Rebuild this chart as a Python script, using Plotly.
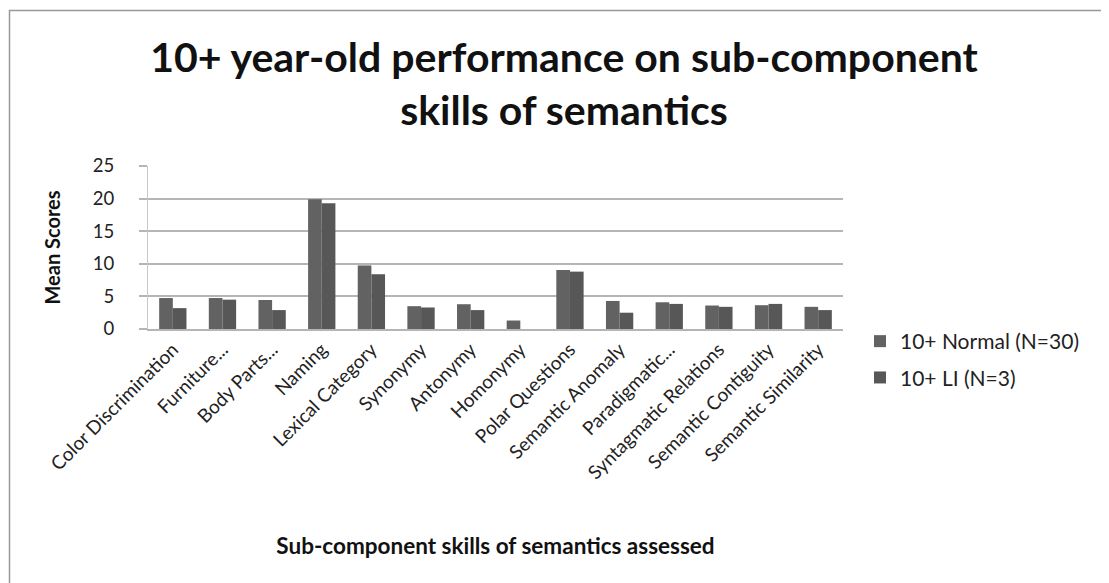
import plotly.graph_objects as go

categories = ["Color Discrimination", "Furniture...", "Body Parts...", "Naming",
              "Lexical Category", "Synonymy", "Antonymy", "Homonymy",
              "Polar Questions", "Semantic Anomaly", "Paradigmatic...",
              "Syntagmatic Relations", "Semantic Contiguity", "Semantic Similarity"]
normal_vals = [4.75, 4.75, 4.45, 19.9, 9.75, 3.5, 3.8, 1.3, 9.05, 4.3, 4.1, 3.6, 3.65, 3.4]
li_vals = [3.2, 4.5, 2.9, 19.3, 8.4, 3.3, 2.9, 0, 8.8, 2.5, 3.85, 3.4, 3.85, 2.9]
series_names = ["10+ Normal (N=30)", "10+ LI (N=3)"]

FONT = "Lato, 'Open Sans', 'DejaVu Sans', sans-serif"

fig = go.Figure()
fig.add_trace(go.Bar(x=categories, y=normal_vals, name=series_names[0],
                     marker=dict(color="#626262", line=dict(width=0)), legendgroup="a"))
fig.add_trace(go.Bar(x=categories, y=li_vals, name=series_names[1],
                     marker=dict(color="#575757", line=dict(width=0)), legendgroup="b"))

OFF = 8  # page body margin
W, H = 1109 - OFF, 583 - OFF
# plot area in reference (page) pixel coordinates
PX0, PX1, PY0, PY1 = 148, 843, 166, 329
L, R = PX0 - OFF, W - (PX1 - OFF)
T, B = PY0 - OFF, H - (PY1 - OFF)
pw, ph = W - L - R, H - T - B

def px(x):
    return (x - OFF - L) / pw

def py(y):
    return (H - B - (y - OFF)) / ph

fig.update_layout(
    width=W, height=H,
    margin=dict(l=L, r=R, t=T, b=B, autoexpand=False),
    paper_bgcolor="white", plot_bgcolor="white",
    barmode="group", bargap=0.45, bargroupgap=0,
    font=dict(family=FONT, color="#222"),
    title=dict(text="<b>10+ year-old performance on sub-component<br>skills of semantics</b>",
               x=0.505, xanchor="center", y=1 - 64 / H, yanchor="middle",
               font=dict(size=41, color="#111", family=FONT)),
    showlegend=True,
    legend=dict(x=px(860), y=py(321), xanchor="left", yanchor="top",
                font=dict(size=21, color="#222"), tracegroupgap=6,
                bgcolor="rgba(0,0,0,0)", itemwidth=30),
    xaxis=dict(tickangle=-45, tickfont=dict(size=19, color="#222"),
               showline=True, linecolor="#b5b5b5", linewidth=2,
               ticks="", showgrid=False,
               title=dict(text="<b>Sub-component skills of semantics assessed</b>",
                          font=dict(size=22.5, color="#111"), standoff=56)),
    yaxis=dict(range=[0, 25], dtick=5, tickfont=dict(size=18.5, color="#222"),
               showgrid=True, gridcolor="#b5b5b5", gridwidth=2,
               showline=True, linecolor="#c8c8c8", linewidth=1, zeroline=False,
               ticks="outside", ticklen=8, tickcolor="#b5b5b5", tickwidth=2,
               ticklabelstandoff=21,
               title=dict(text="<b>Mean Scores</b>", font=dict(size=20, color="#111"), standoff=26)),
    shapes=[dict(type="rect", xref="paper", yref="paper",
                 x0=px(9.5), x1=px(1107), y0=py(10.5), y1=py(620),
                 line=dict(color="#999", width=1.5), fillcolor="rgba(0,0,0,0)")],
)

fig.write_html("out.html")
